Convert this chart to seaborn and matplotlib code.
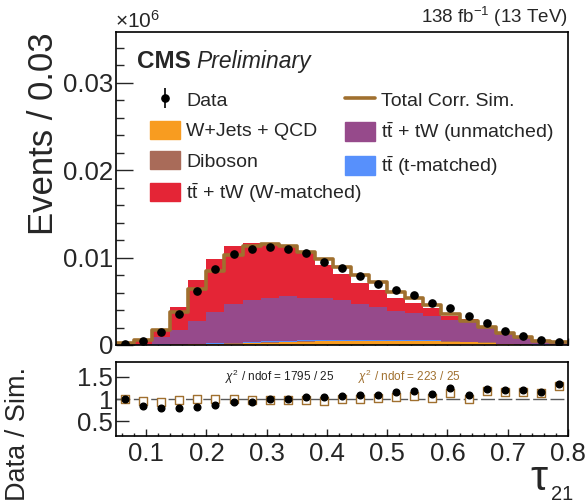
import numpy as np
import pandas as pd
import matplotlib
matplotlib.use("Agg")
import matplotlib.pyplot as plt
import seaborn as sns
from matplotlib.lines import Line2D
from matplotlib.patches import Patch
from matplotlib.ticker import MultipleLocator, FixedLocator, FixedFormatter

# ---------------- data (values in units of 10^6 events) ----------------
bin_low = 0.05
bin_high = 0.80
bin_width = 0.03
n_bins = 25

data_vals = [0.0001, 0.00046, 0.00145, 0.0035, 0.00613, 0.00865, 0.01044, 0.0110, 0.0112,
             0.01093, 0.01048, 0.0095, 0.00876, 0.00789, 0.0070, 0.00632, 0.0057, 0.0048,
             0.0042, 0.0033, 0.0025, 0.0016, 0.0010, 0.00057, 0.0003]
corr_sim = [0.0002, 0.00057, 0.00175, 0.0038, 0.00636, 0.00846, 0.0103, 0.01135, 0.01154,
            0.01128, 0.01067, 0.0098, 0.00888, 0.0080, 0.00716, 0.0061, 0.00533, 0.00457,
            0.0036, 0.0028, 0.00208, 0.0014, 0.0009, 0.0005, 0.0003]
wjets_qcd = [0.00001, 0.00002, 0.00003, 0.00005, 0.00007, 0.0001, 0.00017, 0.0002, 0.00025,
             0.0003, 0.00035, 0.0004, 0.00042, 0.00042, 0.00042, 0.00042, 0.0004, 0.0004,
             0.00035, 0.0003, 0.00025, 0.00008, 0.00005, 0.00003, 0.00002]
diboson = [0.0, 0.00001, 0.00002, 0.00003, 0.00004, 0.00005, 0.00006, 0.00006, 0.00007,
           0.00007, 0.00007, 0.00007, 0.00007, 0.00007, 0.00006, 0.00006, 0.00006, 0.00005,
           0.00005, 0.00004, 0.00004, 0.00003, 0.00003, 0.00002, 0.00001]
tt_tmatched = [0.0, 0.0, 0.00001, 0.00002, 0.00003, 0.00004, 0.00005, 0.00006, 0.00008,
               0.0001, 0.0001, 0.0001, 0.0001, 0.00012, 0.00012, 0.0001, 0.0001, 0.00008,
               0.00006, 0.00005, 0.00004, 0.00003, 0.00002, 0.00001, 0.0]
tt_unmatched = [0.00001, 0.00007, 0.00084, 0.0016, 0.00266, 0.0036, 0.0044, 0.0048, 0.0050,
                0.0051, 0.0049, 0.0048, 0.0045, 0.0041, 0.0038, 0.0033, 0.0031, 0.0028,
                0.0024, 0.0023, 0.0016, 0.0011, 0.0007, 0.00034, 0.00017]
tt_wmatched = [0.00008, 0.0003, 0.0009, 0.0027, 0.0046, 0.0060, 0.0066, 0.0066, 0.0061,
               0.0057, 0.0051, 0.0038, 0.0030, 0.0024, 0.0019, 0.0015, 0.0011, 0.0009,
               0.0005, 0.0003, 0.0001, 0.00003, 0.00003, 0.00003, 0.00003]

ratio_data = [1.0, 0.85, 0.795, 0.795, 0.825, 0.87, 0.925, 0.935, 0.99, 1.0, 1.04, 1.04,
              1.07, 1.10, 1.10, 1.15, 1.19, 1.12, 1.24, 1.08, 1.22, 1.21, 1.195, 1.17, 1.35]
ratio_data_err = [0.07, 0.03, 0.015, 0.01, 0.01, 0.01, 0.01, 0.01, 0.01, 0.01, 0.01, 0.01,
                  0.01, 0.01, 0.01, 0.01, 0.015, 0.015, 0.015, 0.02, 0.02, 0.02, 0.03, 0.03, 0.04]
ratio_corr = [1.0, 0.955, 0.935, 0.97, 0.99, 1.005, 1.01, 0.98, 0.98, 0.97, 0.975, 0.965,
              0.99, 1.01, 1.015, 1.035, 1.07, 1.02, 1.145, 0.995, 1.185, 1.15, 1.15, 1.13, 1.295]

main_yticks = [0.0, 0.01, 0.02, 0.03]
main_ytick_labels = ["0", "0.01", "0.02", "0.03"]
ratio_yticks = [0.5, 1.0, 1.5]
ratio_ytick_labels = ["0.5", "1", "1.5"]
xticks = [0.1, 0.2, 0.3, 0.4, 0.5, 0.6, 0.7, 0.8]
xtick_labels = ["0.1", "0.2", "0.3", "0.4", "0.5", "0.6", "0.7", "0.8"]

lab_wjets = "W+Jets + QCD"
lab_dib = "Diboson"
lab_wm = r"$\mathrm{t\bar{t}}$ + tW (W-matched)"
lab_um = r"$\mathrm{t\bar{t}}$ + tW (unmatched)"
lab_tm = r"$\mathrm{t\bar{t}}$ (t-matched)"

colors = {lab_wjets: "#f89c20", lab_dib: "#a96b59", lab_tm: "#5790fc",
          lab_um: "#964a8b", lab_wm: "#e42536"}
brown = "#a0702f"

# ---------------- style ----------------
sns.set_theme(style="ticks")
plt.rcParams['font.family'] = ['Liberation Sans', 'DejaVu Sans']
plt.rcParams['mathtext.fontset'] = 'custom'
plt.rcParams['mathtext.rm'] = 'Liberation Sans'
plt.rcParams['mathtext.it'] = 'Liberation Sans:italic'
plt.rcParams['mathtext.bf'] = 'Liberation Sans:bold'

centers = bin_low + bin_width * (np.arange(n_bins) + 0.5)

rows = []
for lab, vals in [(lab_wm, tt_wmatched), (lab_um, tt_unmatched), (lab_tm, tt_tmatched),
                  (lab_dib, diboson), (lab_wjets, wjets_qcd)]:
    for c, v in zip(centers, vals):
        rows.append({"x": c, "w": v, "comp": lab})
df = pd.DataFrame(rows)
df_corr = pd.DataFrame({"x": centers, "w": corr_sim})

fig = plt.figure(figsize=(5.88, 5.04), dpi=100)
ax = fig.add_axes([0.1973, 0.3155, 0.7687, 0.621])
axr = fig.add_axes([0.1973, 0.1349, 0.7687, 0.1468])

sns.histplot(data=df, x="x", weights="w", hue="comp",
             hue_order=[lab_wm, lab_um, lab_tm, lab_dib, lab_wjets],
             palette=colors, multiple="stack", bins=n_bins, binrange=(bin_low, bin_high),
             element="step", linewidth=0, alpha=1, ax=ax, legend=False)
sns.histplot(data=df_corr, x="x", weights="w", bins=n_bins, binrange=(bin_low, bin_high),
             element="step", fill=False, color=brown, linewidth=2.6, ax=ax)
dat = ax.errorbar(centers, data_vals, yerr=np.zeros(n_bins), fmt="o", color="black",
                  ms=5.2, elinewidth=1.2, capsize=0, zorder=5)

ax.set_xlim(bin_low, bin_high)
ax.set_ylim(0, 0.0358)
ax.set_xlabel("")
ax.set_ylabel("Events / 0.03", fontsize=25, loc="top", labelpad=2)
ax.yaxis.set_major_locator(FixedLocator(main_yticks))
ax.yaxis.set_major_formatter(FixedFormatter(main_ytick_labels))
ax.yaxis.set_minor_locator(MultipleLocator(0.002))
ax.xaxis.set_major_locator(FixedLocator(xticks))
ax.xaxis.set_minor_locator(MultipleLocator(0.02))
ax.tick_params(axis="x", labelbottom=False)
ax.tick_params(axis="both", which="both", direction="in", top=False, right=False, width=1)
ax.tick_params(axis="y", which="major", length=12, labelsize=18.5, pad=2)
ax.tick_params(axis="y", which="minor", length=6)
ax.tick_params(axis="x", which="major", length=5)
ax.tick_params(axis="x", which="minor", length=2.5)
for s in ax.spines.values():
    s.set_linewidth(1.2)
    s.set_color("black")

# legends
leg_kw = dict(loc="upper left", frameon=False, fontsize=14, handlelength=1.55,
              handleheight=1.08, handletextpad=0.3, labelspacing=0.54, borderpad=0,
              borderaxespad=0)
leg1 = ax.legend([dat, Patch(color=colors[lab_wjets]), Patch(color=colors[lab_dib]),
                  Patch(color=colors[lab_wm])],
                 ["Data", lab_wjets, lab_dib, lab_wm],
                 bbox_to_anchor=(0.075, 0.814), **leg_kw)
ax.add_artist(leg1)
ax.legend([Line2D([0], [0], color=brown, lw=2.6), Patch(color=colors[lab_um]),
           Patch(color=colors[lab_tm])],
          ["Total Corr. Sim.", lab_um, lab_tm],
          bbox_to_anchor=(0.507, 0.814), **leg_kw)

ax.text(0.046, 0.885, "CMS", transform=ax.transAxes, fontsize=17.5, fontweight="bold",
        va="baseline", ha="left")
ax.text(0.178, 0.885, "Preliminary", transform=ax.transAxes, fontsize=16.5,
        fontstyle="italic", va="baseline", ha="left")
fig.text(0.1955, 0.944, r"$\times$10$^{6}$", fontsize=15, ha="left", va="baseline")
fig.text(0.966, 0.955, r"138 fb$^{-1}$ (13 TeV)", fontsize=13.5, ha="right", va="baseline")

# ratio panel
axr.axhline(1.0, color="0.35", lw=1, dashes=(10, 2.5), zorder=1)
sns.scatterplot(x=centers, y=ratio_corr, marker="s", s=32, facecolor="white",
                edgecolor=brown, linewidth=1.0, ax=axr, zorder=3)
axr.errorbar(centers, ratio_data, yerr=ratio_data_err, fmt="o", color="black", ms=4.8,
             elinewidth=1.0, capsize=0, zorder=4)
axr.set_xlim(bin_low, bin_high)
axr.set_ylim(0.16, 1.84)
axr.set_ylabel("Data / Sim.", fontsize=19.5, loc="top")
axr.yaxis.set_label_coords(-0.188, 0.93)
axr.set_xlabel("")
axr.yaxis.set_major_locator(FixedLocator(ratio_yticks))
axr.yaxis.set_major_formatter(FixedFormatter(ratio_ytick_labels))
axr.xaxis.set_major_locator(FixedLocator(xticks))
axr.xaxis.set_major_formatter(FixedFormatter(xtick_labels))
axr.xaxis.set_minor_locator(MultipleLocator(0.02))
axr.tick_params(axis="both", which="both", direction="in", top=False, right=False, width=1)
axr.tick_params(axis="y", which="major", length=9, labelsize=18.5, pad=2)
axr.tick_params(axis="x", which="major", length=5, labelsize=18.5, pad=4)
axr.tick_params(axis="x", which="minor", length=2.5)
for s in axr.spines.values():
    s.set_linewidth(1.2)
    s.set_color("black")
axr.text(0.241, 0.8, r"$\chi^{2}$ / ndof = 1795 / 25", transform=axr.transAxes,
         fontsize=8.5, color="#222222", va="center", ha="left")
axr.text(0.535, 0.8, r"$\chi^{2}$ / ndof = 223 / 25", transform=axr.transAxes,
         fontsize=8.5, color=brown, va="center", ha="left")

# x-axis title (tau_21), drawn as symbol + subscript
fig.text(0.9014, 0.0278, r"$\mathrm{\tau}$", fontsize=31, ha="left", va="baseline")
fig.text(0.9365, 0.008, "21", fontsize=14.5, ha="left", va="baseline")

fig.savefig("out.png", dpi=100)
